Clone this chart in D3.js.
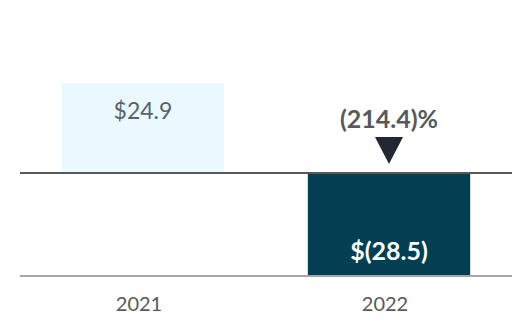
<!DOCTYPE html>
<html>
<head>
<meta charset="utf-8">
<script src="https://cdn.jsdelivr.net/npm/d3@7/dist/d3.min.js"></script>
<style>
  html, body { margin: 0; padding: 0; background: #fff; }
  svg { display: block; font-family: Lato, "Open Sans", sans-serif; }
</style>
</head>
<body>
<svg id="chart" width="532" height="332"></svg>
<script>
const categories = ["2021", "2022"];
const values = [24.9, -28.5];
const valueLabels = ["$24.9", "$(28.5)"];
const changeLabel = "(214.4)%";

const W = 532, H = 332;
const svg = d3.select("#chart");

const x = d3.scaleBand().domain(categories).range([20, 512]).paddingInner(0.34).paddingOuter(0.17);
const y = d3.scaleLinear().domain([d3.min(values), d3.max(values)]).range([276, 83]);
const colors = ["#EAF8FF", "#023F53"];

// bars
svg.selectAll("rect.bar").data(values).join("rect")
  .attr("class", "bar")
  .attr("x", (d, i) => x(categories[i]))
  .attr("width", x.bandwidth())
  .attr("y", d => Math.min(y(d), y(0)))
  .attr("height", d => Math.abs(y(d) - y(0)))
  .attr("fill", (d, i) => colors[i]);

// zero line
svg.append("line")
  .attr("x1", 20).attr("x2", 512)
  .attr("y1", y(0)).attr("y2", y(0))
  .attr("stroke", "#595959").attr("stroke-width", 2);

// bottom line
svg.append("line")
  .attr("x1", 20).attr("x2", 512)
  .attr("y1", y(d3.min(values))).attr("y2", y(d3.min(values)))
  .attr("stroke", "#A6A6A6").attr("stroke-width", 2);

// value labels
svg.append("text")
  .attr("x", x(categories[0]) + x.bandwidth() / 2)
  .attr("y", y(values[0]) + 36)
  .attr("text-anchor", "middle")
  .attr("font-size", 23)
  .attr("fill", "#56636B")
  .text(valueLabels[0]);

svg.append("text")
  .attr("x", x(categories[1]) + x.bandwidth() / 2)
  .attr("y", y(values[1]) - 16)
  .attr("text-anchor", "middle")
  .attr("font-size", 25)
  .attr("font-weight", "bold")
  .attr("fill", "#FFFFFF")
  .text(valueLabels[1]);

// change annotation
const cx2 = x(categories[1]) + x.bandwidth() / 2;
svg.append("text")
  .attr("x", cx2)
  .attr("y", y(0) - 45)
  .attr("text-anchor", "middle")
  .attr("font-size", 25)
  .attr("font-weight", "bold")
  .attr("fill", "#58595B")
  .text(changeLabel);

svg.append("path")
  .attr("d", `M${cx2 - 14},${y(0) - 36} L${cx2 + 14},${y(0) - 36} L${cx2},${y(0) - 9} Z`)
  .attr("fill", "#222831");

// x labels
svg.selectAll("text.xl").data(categories).join("text")
  .attr("class", "xl")
  .attr("x", d => x(d) + x.bandwidth() / 2 - 4)
  .attr("y", y(d3.min(values)) + 35)
  .attr("text-anchor", "middle")
  .attr("font-size", 20)
  .attr("fill", "#595959")
  .text(d => d);
</script>
</body>
</html>
